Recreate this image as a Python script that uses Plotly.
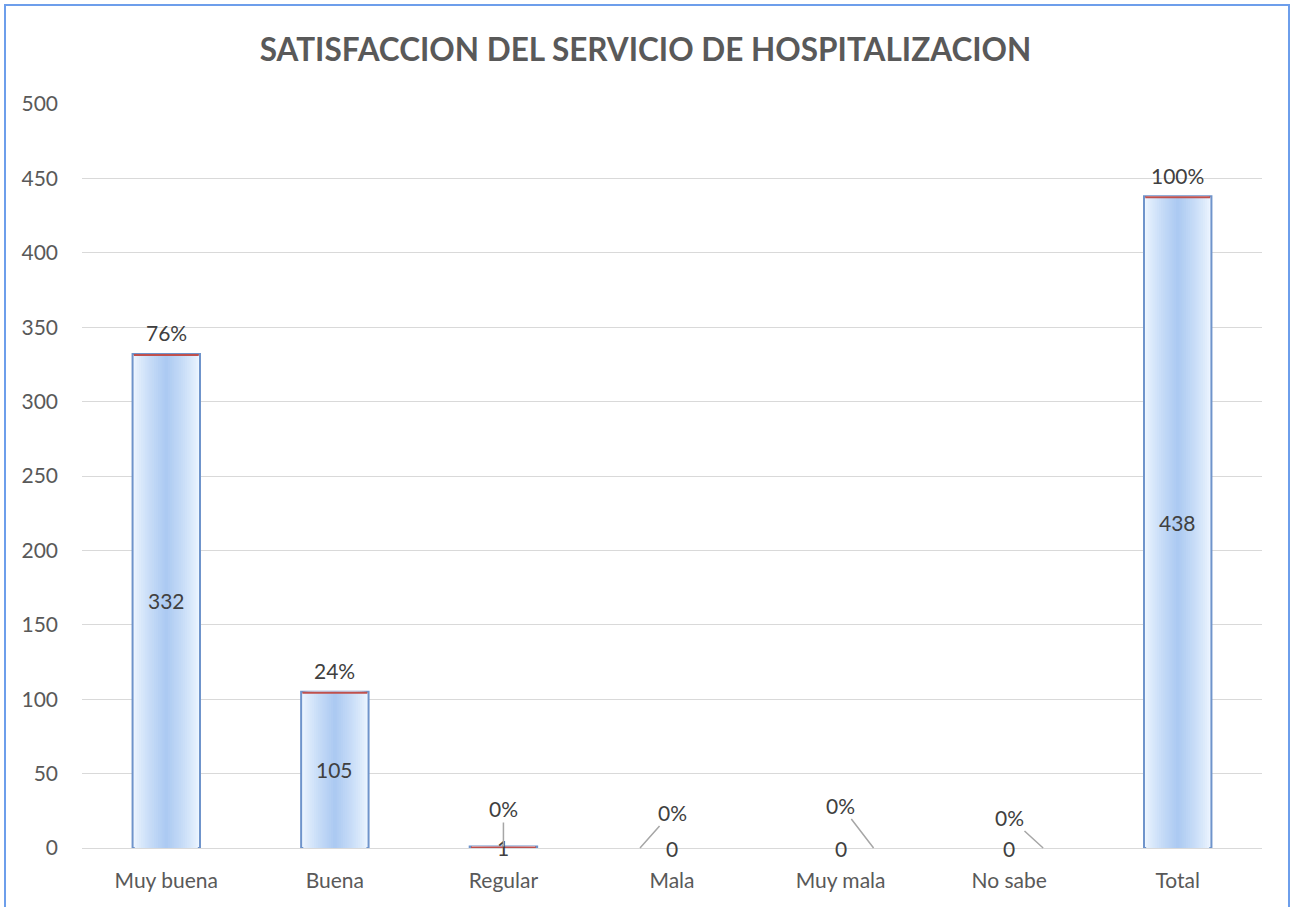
import plotly.graph_objects as go

categories = ["Muy buena", "Buena", "Regular", "Mala", "Muy mala", "No sabe", "Total"]
values = [332, 105, 1, 0, 0, 0, 438]
pct_labels = ["76%", "24%", "0%", "0%", "0%", "0%", "100%"]
y_ticks = [0, 50, 100, 150, 200, 250, 300, 350, 400, 450, 500]

FONT = "Lato"
TXT = "#595959"
LBL = "#404040"
FS = 21

fig = go.Figure()

# layered bars to mimic a smooth horizontal gradient (white edges -> blue centre)
n_layers = 16
c_edge = (238, 246, 255)
c_mid = (172, 202, 242)
for i in range(n_layers):
    t = i / (n_layers - 1)
    w = 0.40 * (1 - t) + 0.02 * t
    col = "rgb(%d,%d,%d)" % tuple(round(a + (b - a) * (t ** 0.8)) for a, b in zip(c_edge, c_mid))
    fig.add_trace(go.Bar(
        x=categories, y=values, width=w,
        marker=dict(color=col,
                    line=dict(color="#6f94cb",
                              width=[2 if (i == 0 and v > 0) else 0 for v in values])),
        hoverinfo="skip", showlegend=False,
    ))

# red top edge
fig.add_trace(go.Bar(
    x=categories, y=[1.4 if v > 0 else 0 for v in values],
    base=[v - 1.4 for v in values], width=0.385,
    marker=dict(color="#c0504d", line=dict(width=0)),
    hoverinfo="skip", showlegend=False,
))

annotations = []
# value labels
for c, v in zip(categories, values):
    annotations.append(dict(x=c, y=v / 2, text=str(v), showarrow=False,
                            font=dict(family=FONT, size=FS, color=LBL),
                            yanchor="middle"))

# percent labels (leader lines for the tiny bars)
leader = {
    "Regular": (0, 0, -38),
    "Mala": (-32, 32, -36),
    "Muy mala": (33, -33, -43),
    "No sabe": (34, -34, -31),
}
for c, v, p in zip(categories, values, pct_labels):
    if c in leader:
        xs, ax, ay = leader[c]
        annotations.append(dict(x=c, y=v, text=p, xshift=xs, ax=ax, ay=ay,
                                showarrow=True, arrowhead=0, arrowwidth=1.5,
                                arrowcolor="#a6a6a6", standoff=0, startstandoff=0,
                                font=dict(family=FONT, size=FS, color=LBL)))
    else:
        annotations.append(dict(x=c, y=v, text=p, showarrow=False, yshift=21,
                                yanchor="middle",
                                font=dict(family=FONT, size=FS, color=LBL)))

fig.update_layout(
    width=1291, height=907,
    barmode="overlay",
    paper_bgcolor="white", plot_bgcolor="white",
    margin=dict(l=82, r=29, t=104, b=59),
    title=dict(text="<b>SATISFACCION DEL SERVICIO DE HOSPITALIZACION</b>",
               x=0.5, xref="container", xanchor="center",
               y=1 - 50 / 907, yref="container", yanchor="middle",
               font=dict(family=FONT, size=31.5, color=TXT)),
    font=dict(family=FONT, size=FS, color=TXT),
    xaxis=dict(type="category", showgrid=False, showline=False, ticks="",
               ticklabelstandoff=18,
               tickfont=dict(family=FONT, size=FS, color=TXT)),
    yaxis=dict(range=[0, 500], tickvals=y_ticks, showgrid=True, gridcolor="#d9d9d9",
               gridwidth=1, zeroline=True, zerolinecolor="#d9d9d9", zerolinewidth=1,
               ticks="", ticklabelstandoff=23,
               tickfont=dict(family=FONT, size=FS, color=TXT)),
    annotations=annotations,
    shapes=[dict(type="path", xref="paper", yref="paper",
                 path="M -0.06525,-0.2 L -0.06525,1.1331 L 1.02288,1.1331 L 1.02288,-0.2",
                 line=dict(color="#6d9eeb", width=2), layer="above")],
)

fig.write_html("out.html", config={"displayModeBar": False},
               post_script="document.body.style.margin='0px';document.body.style.overflow='hidden';")
